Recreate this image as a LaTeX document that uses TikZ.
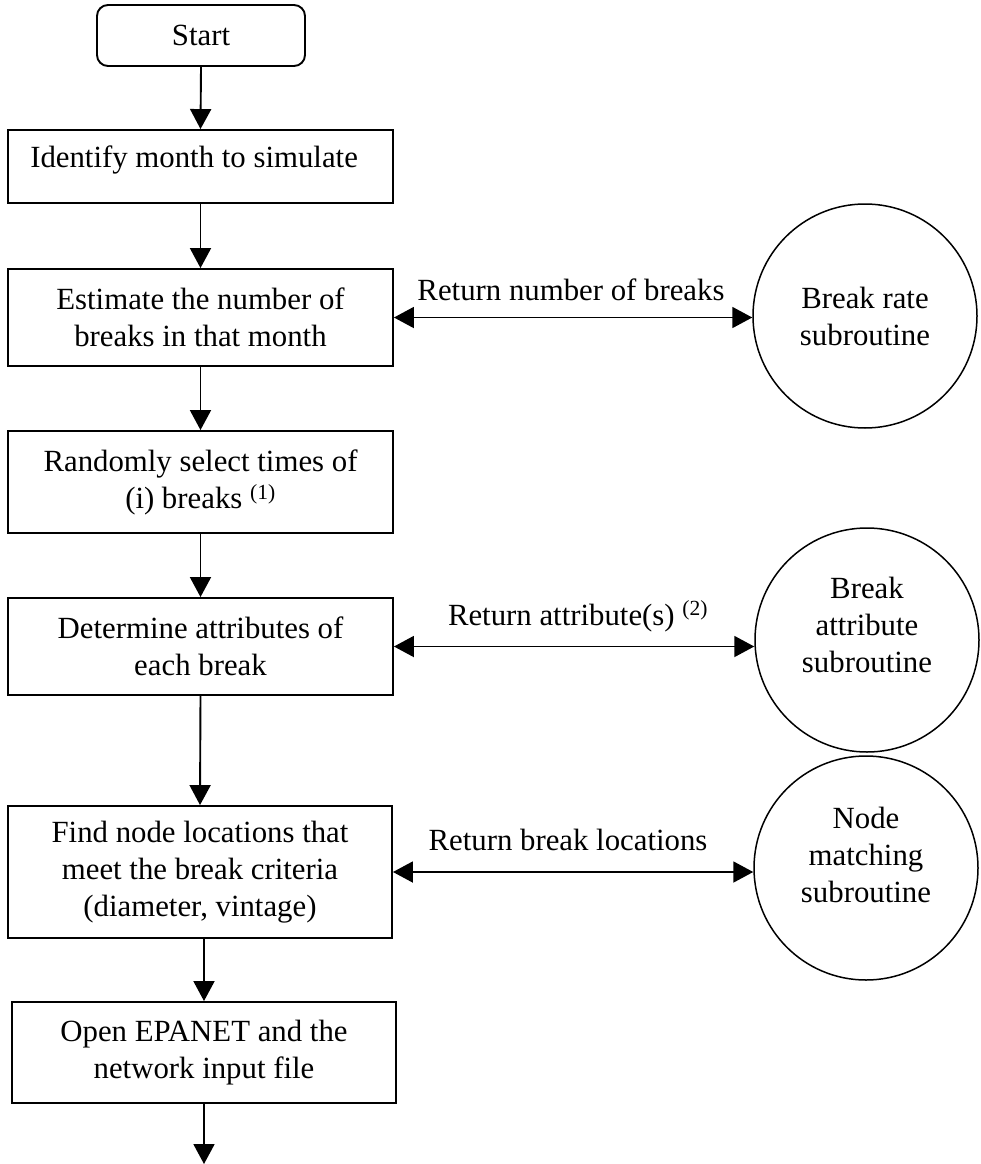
\documentclass[tikz,border=0pt]{standalone}
\usepackage{fontspec}
\setmainfont{Liberation Serif}
\usetikzlibrary{arrows.meta,calc}
\begin{document}
\begin{tikzpicture}[x=1pt,y=-1pt,
 every node/.style={font=\fontsize{30.8pt}{37pt}\selectfont},
 box/.style={draw, line width=1.9pt, minimum width=385pt, inner sep=0pt, align=center},
 startbox/.style={draw, line width=1.9pt, rounded corners=11pt, minimum width=208pt, minimum height=61pt, inner sep=0pt},
 circ/.style={draw, circle, line width=1.5pt, minimum size=224pt, inner sep=0pt},
 ctext/.style={align=center, inner sep=0pt},
 lab/.style={anchor=base, inner sep=0pt},
 flow/.style={line width=1.9pt, -{Triangle[length=20pt,width=21pt]}},
 both/.style={line width=1.9pt, {Triangle[length=20pt,width=21pt]}-{Triangle[length=20pt,width=21pt]}}]
\useasboundingbox (0,0) rectangle (980,1164);
\fill[white] (0,0) rectangle (980,1164);

\node[startbox] (start) at (201,35.5) {Start};
\node[box, minimum height=73pt] (b1) at (200.5,166.5) {};
\node[anchor=base west, inner sep=0pt] (t1) at ($(b1.west)+(23,0.5)$) {Identify month to simulate};
\node[box, minimum height=97pt] (b2) at (200.5,317.5) {Estimate the number of\\breaks in that month};
\node[box, minimum height=102pt] (b3) at (200.5,482) {Randomly select times of\\(i) breaks~\textsuperscript{(1)}};
\node[box, minimum height=97pt] (b4) at (200.5,646.5) {Determine attributes of\\each break};
\node[box, minimum width=384pt, minimum height=132pt] (b5) at (200,872) {Find node locations that\\meet the break criteria\\(diameter, vintage)};
\node[box, minimum width=384pt, minimum height=101pt] (b6) at (204,1052.5) {Open EPANET and the\\network input file};

\node[circ] (c1) at (865,316) {};
\node[ctext] (ct1) at (c1.center) {Break rate\\subroutine};
\node[circ] (c2) at (867,640) {};
\node[ctext] (ct2) at ([yshift=15pt]c2.center) {Break\\attribute\\subroutine};
\node[circ] (c3) at (866,868) {};
\node[ctext] (ct3) at ([yshift=13pt]c3.center) {Node\\matching\\subroutine};

\coordinate (end) at (204,1164);
\draw[flow] (start.south) -- (b1.north);
\draw[flow] (b1.south) -- (b2.north);
\draw[flow] (b2.south) -- (b3.north);
\draw[flow] (b3.south) -- (b4.north);
\draw[flow] (b4.south) -- (b5.north);
\draw[flow] (b6.north |- b5.south) -- (b6.north);
\draw[flow] (b6.south) -- (end);

\draw[both] (b2.east) -- (b2.east -| c1.west);
\draw[both] (b4.east) -- (b4.east -| c2.west);
\draw[both] (b5.east) -- (b5.east -| c3.west);

\node[lab] (l1) at (571,300) {Return number of breaks};
\node[lab] (l2) at (578,625) {Return attribute(s)~\textsuperscript{(2)}};
\node[lab] (l3) at (568,850) {Return break locations};
\end{tikzpicture}
\end{document}
